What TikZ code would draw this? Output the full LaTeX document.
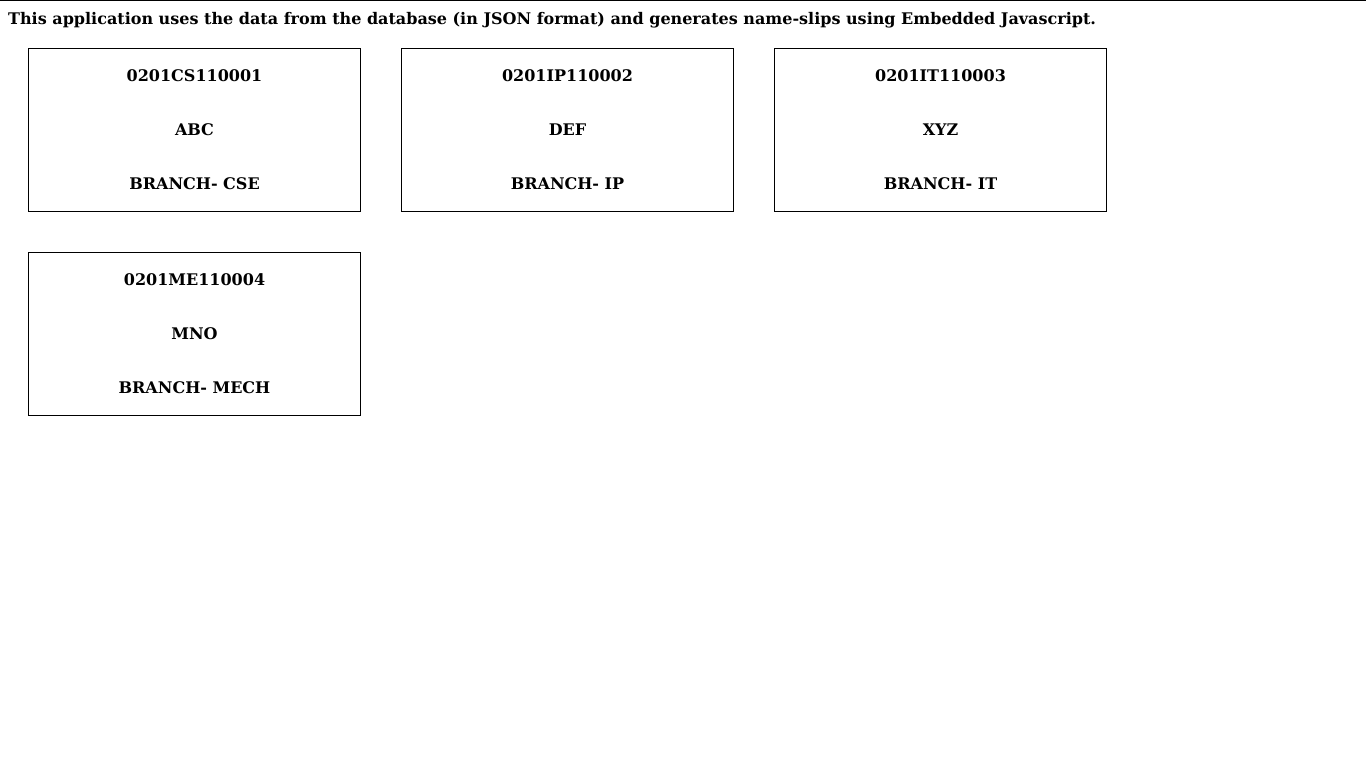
\documentclass[tikz,border=0pt]{standalone}
\usepackage{fontspec}
\setmainfont{DejaVu Serif}

\tikzset{
  slip/.style={draw, line width=1pt, minimum width=332pt, minimum height=163pt, inner sep=0pt},
  slipline/.style={font=\bfseries\fontsize{16}{19}\selectfont, anchor=base, inner sep=0pt}
}

\begin{document}
\begin{tikzpicture}[x=1pt,y=-1pt]
\useasboundingbox (0,0) rectangle (1366,768);
\draw[line width=1pt] (0,0.5) -- (1366,0.5);
\node[slipline, anchor=base west] (intro) at (8,24.5) {This application uses the data from the database (in JSON format) and generates name-slips using Embedded Javascript.};
\foreach \roll/\name/\branch/\cx/\cy [count=\i] in {0201CS110001/ABC/CSE/194.5/130, 0201IP110002/DEF/IP/567.5/130, 0201IT110003/XYZ/IT/940.5/130, 0201ME110004/MNO/MECH/194.5/334} {
  \node[slip] (slip\i) at (\cx,\cy) {};
  \node[slipline] (roll\i) at (\cx,{\cy-48.5}) {\roll};
  \node[slipline] (name\i) at (\cx,{\cy+5}) {\name};
  \node[slipline] (branch\i) at (\cx,{\cy+59}) {BRANCH- \branch};
}
\end{tikzpicture}
\end{document}
